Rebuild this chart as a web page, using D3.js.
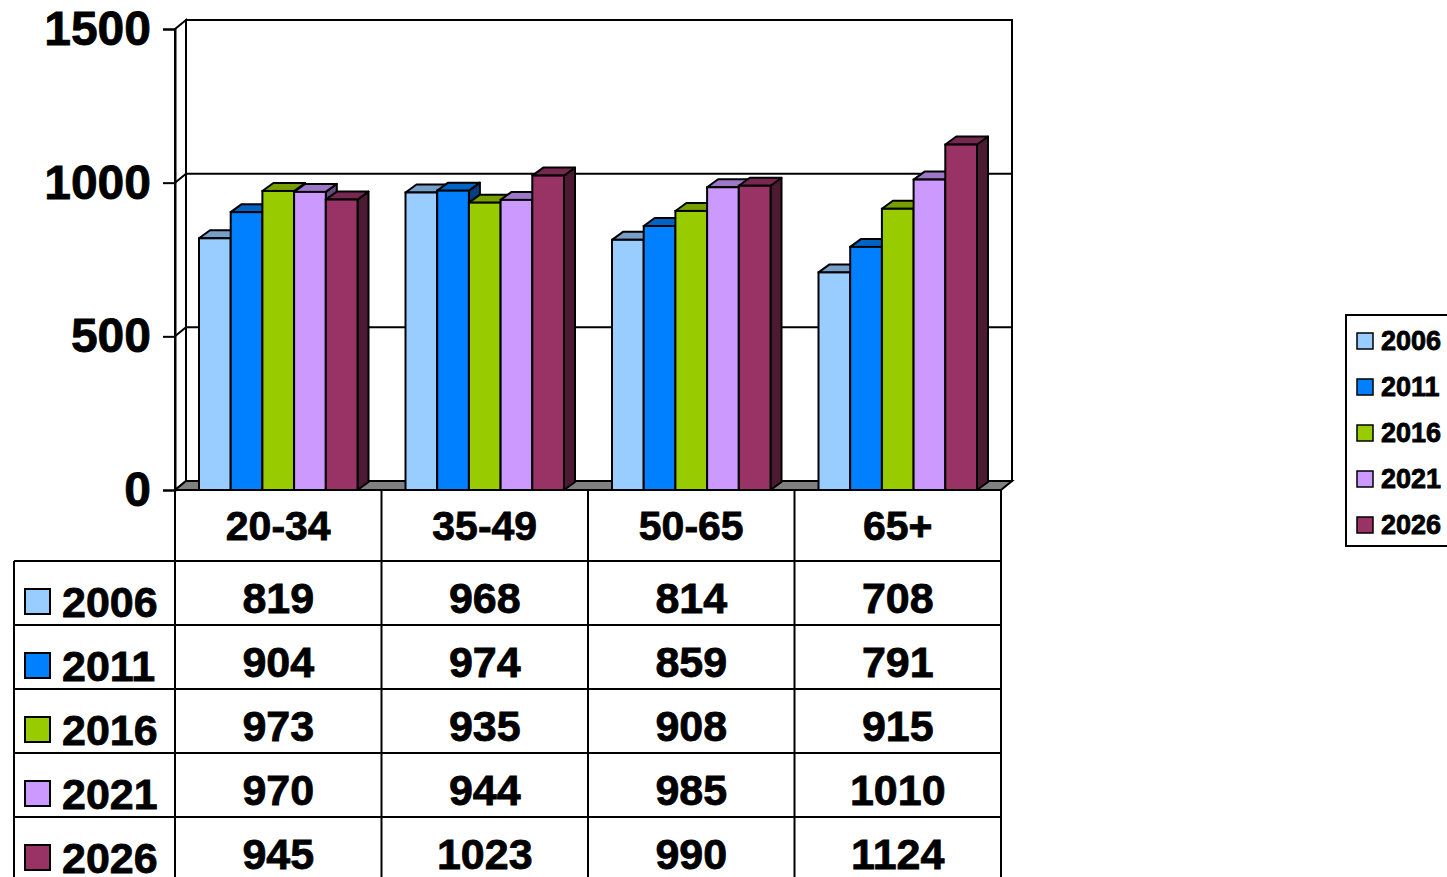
<!DOCTYPE html>
<html>
<head>
<meta charset="utf-8">
<script src="https://cdn.jsdelivr.net/npm/d3@7"></script>
<style>
  body { margin: 0; background: #fff; }
  text { font-family: "Liberation Sans", Arial, sans-serif; font-weight: bold; fill: #000; stroke: #000; stroke-width: 0.8px; }
</style>
</head>
<body>
<svg id="chart" width="1447" height="877"></svg>
<script>
// data
const categories = ['20-34', '35-49', '50-65', '65+'];
const years = ['2006', '2011', '2016', '2021', '2026'];
const colors = ['#99CCFF', '#0080FF', '#99CC00', '#CC99FF', '#993366'];
const values2006 = [819, 968, 814, 708];
const values2011 = [904, 974, 859, 791];
const values2016 = [973, 935, 908, 915];
const values2021 = [970, 944, 985, 1010];
const values2026 = [945, 1023, 990, 1124];
const yTicks = [0, 500, 1000, 1500];

const series = [values2006, values2011, values2016, values2021, values2026];

const svg = d3.select('#chart');

// plot geometry (front face of the 3d box)
const plotLeft = 175, plotRight = 1001, plotTop = 29, plotBottom = 490;
const dx = 11, dy = 9; // depth offset of back wall

const x = d3.scaleBand().domain(categories).range([plotLeft, plotRight]);
const xs = d3.scaleBand().domain(years).range([24, x.bandwidth() - 24]);
const y = d3.scaleLinear().domain([0, 1500]).range([plotBottom, plotTop]);

function shade(c, k) {
  const r = d3.rgb(c);
  return d3.rgb(r.r * k, r.g * k, r.b * k).toString();
}

// back wall
svg.append('rect')
  .attr('x', plotLeft + dx).attr('y', plotTop - dy)
  .attr('width', plotRight - plotLeft).attr('height', plotBottom - plotTop)
  .attr('fill', '#fff').attr('stroke', '#000').attr('stroke-width', 2);

// left wall
svg.append('path')
  .attr('d', `M${plotLeft},${plotTop} L${plotLeft + dx},${plotTop - dy} L${plotLeft + dx},${plotBottom - dy} L${plotLeft},${plotBottom} Z`)
  .attr('fill', '#fff').attr('stroke', '#000').attr('stroke-width', 2);

// floor
svg.append('path')
  .attr('d', `M${plotLeft},${plotBottom} L${plotLeft + dx},${plotBottom - dy} L${plotRight + dx},${plotBottom - dy} L${plotRight},${plotBottom} Z`)
  .attr('fill', '#808080').attr('stroke', '#000').attr('stroke-width', 2);

// gridlines on the walls
const grid = svg.append('g');
yTicks.filter(t => t > 0 && t < 1500).forEach(t => {
  grid.append('path')
    .attr('d', `M${plotLeft},${y(t)} L${plotLeft + dx},${y(t) - dy} L${plotRight + dx},${y(t) - dy}`)
    .attr('fill', 'none').attr('stroke', '#000').attr('stroke-width', 2);
});

// y axis
const yAxis = svg.append('g')
  .attr('transform', `translate(${plotLeft},0)`)
  .call(d3.axisLeft(y).tickValues(yTicks).tickFormat(d3.format('d')).tickSize(12).tickPadding(12));
yAxis.select('.domain').attr('stroke', '#000').attr('stroke-width', 2);
yAxis.selectAll('.tick line').attr('stroke', '#000').attr('stroke-width', 2);
yAxis.selectAll('.tick text')
  .attr('font-family', '"Liberation Sans", Arial, sans-serif')
  .attr('font-weight', 'bold')
  .attr('font-size', 48)
  .attr('fill', '#000');

// 3d bars
const bd = 11, bdy = 8;
const bars = svg.append('g');
categories.forEach((cat, ci) => {
  years.forEach((yr, si) => {
    const v = series[si][ci];
    const x0 = x(cat) + xs(yr), x1 = x0 + xs.bandwidth();
    const y0 = y(v), y1 = plotBottom;
    const g = bars.append('g');
    // side
    g.append('path')
      .attr('d', `M${x1},${y0} L${x1 + bd},${y0 - bdy} L${x1 + bd},${y1 - bdy} L${x1},${y1} Z`)
      .attr('fill', shade(colors[si], 0.5)).attr('stroke', '#000').attr('stroke-width', 2)
      .attr('stroke-linejoin', 'round');
    // top
    g.append('path')
      .attr('d', `M${x0},${y0} L${x0 + bd},${y0 - bdy} L${x1 + bd},${y0 - bdy} L${x1},${y0} Z`)
      .attr('fill', shade(colors[si], 0.78)).attr('stroke', '#000').attr('stroke-width', 2)
      .attr('stroke-linejoin', 'round');
    // front
    g.append('rect')
      .attr('x', x0).attr('y', y0)
      .attr('width', x1 - x0).attr('height', y1 - y0)
      .attr('fill', colors[si]).attr('stroke', '#000').attr('stroke-width', 2);
  });
});

// data table
const tableLeft = 14, headerBottom = 561, rowH = 64;
const table = svg.append('g');
const line = (x1, y1, x2, y2) => table.append('line')
  .attr('x1', x1).attr('y1', y1).attr('x2', x2).attr('y2', y2)
  .attr('stroke', '#000').attr('stroke-width', 2);

line(plotLeft, plotBottom, plotRight, plotBottom);
categories.forEach(c => line(x(c), plotBottom, x(c), 877));
line(plotRight, plotBottom, plotRight, 877);
line(tableLeft, headerBottom, tableLeft, 877);
years.forEach((yr, i) => line(tableLeft, headerBottom + i * rowH, plotRight, headerBottom + i * rowH));

table.selectAll('.cat')
  .data(categories)
  .join('text')
  .attr('class', 'cat')
  .attr('x', d => x(d) + x.bandwidth() / 2)
  .attr('y', 540)
  .attr('text-anchor', 'middle')
  .attr('font-size', 41)
  .text(d => d);

years.forEach((yr, si) => {
  const rowTop = headerBottom + si * rowH;
  table.append('rect')
    .attr('x', 25).attr('y', rowTop + 28)
    .attr('width', 25).attr('height', 25)
    .attr('fill', colors[si]).attr('stroke', '#000').attr('stroke-width', 2);
  table.append('text')
    .attr('x', 62).attr('y', rowTop + 56)
    .attr('font-size', 43)
    .text(yr);
  table.selectAll(null)
    .data(series[si])
    .join('text')
    .attr('x', (d, i) => x(categories[i]) + x.bandwidth() / 2)
    .attr('y', rowTop + 52)
    .attr('text-anchor', 'middle')
    .attr('font-size', 43)
    .text(d => d);
});

// legend
const legend = svg.append('g');
legend.append('rect')
  .attr('x', 1346).attr('y', 315)
  .attr('width', 130).attr('height', 231)
  .attr('fill', '#fff').attr('stroke', '#000').attr('stroke-width', 2);
years.forEach((yr, i) => {
  const cy = 341 + i * 46;
  legend.append('rect')
    .attr('x', 1357).attr('y', cy - 8)
    .attr('width', 16).attr('height', 16)
    .attr('fill', colors[i]).attr('stroke', '#000').attr('stroke-width', 1.5);
  legend.append('text')
    .attr('x', 1381).attr('y', cy + 9)
    .attr('font-size', 27)
    .text(yr);
});
</script>
</body>
</html>
